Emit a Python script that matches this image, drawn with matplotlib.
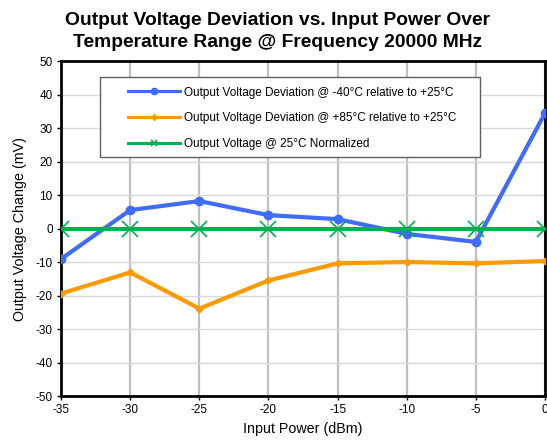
import matplotlib.pyplot as plt
from matplotlib.patches import Rectangle

plt.rcParams['font.family'] = ['Liberation Sans', 'DejaVu Sans']
plt.rcParams['axes.unicode_minus'] = False

# data
input_power = [-35, -30, -25, -20, -15, -10, -5, 0]
dev_minus40 = [-9.1, 5.5, 8.2, 4.0, 2.8, -1.6, -4.0, 34.5]
dev_plus85 = [-19.4, -13.1, -23.9, -15.5, -10.4, -10.0, -10.4, -9.7]
normalized_25 = [0, 0, 0, 0, 0, 0, 0, 0]

fig = plt.figure(figsize=(5.47, 4.44), dpi=100)
ax = fig.add_axes([0.1115, 0.108, 0.885, 0.7546])

# grid: vertical darker, horizontal lighter
for x in input_power:
    ax.axvline(x, color='#c0c0c0', lw=1.6, zorder=0)
for y in range(-40, 50, 10):
    ax.axhline(y, color='#d9d9d9', lw=1.0, zorder=0)

ax.plot(input_power, dev_minus40, color='#3f6bff', lw=3.0, marker='o', ms=6,
        label='Output Voltage Deviation @ -40°C relative to +25°C', zorder=3)
ax.plot(input_power, dev_plus85, color='#ff9900', lw=3.0, marker='D', ms=3.5,
        label='Output Voltage Deviation @ +85°C relative to +25°C', zorder=3)
ax.plot(input_power, normalized_25, color='#00b050', lw=3.0, marker='x', ms=12,
        mew=1.2, label='Output Voltage @ 25°C Normalized', zorder=4)

ax.set_xlim(-35, 0)
ax.set_ylim(-50, 50)
ax.set_xticks(input_power)
ax.set_yticks(range(-50, 51, 10))
ax.tick_params(labelsize=8.5, length=3, width=1, direction='out', pad=3)

for s in ax.spines.values():
    s.set_linewidth(2)
    s.set_color('black')

ax.set_xlabel('Input Power (dBm)', fontsize=10.3, labelpad=4)
ax.set_ylabel('Output Voltage Change (mV)', fontsize=10.3, labelpad=6)
fig.suptitle('Output Voltage Deviation vs. Input Power Over\nTemperature Range @ Frequency 20000 MHz',
             fontsize=13.9, fontweight='bold', x=0.508, y=0.973, linespacing=1.4)

# legend box drawn separately so the padding can be wider than tall
fig.add_artist(Rectangle((100 / 547, 1 - 157 / 444), 380 / 547, 80 / 444,
                         transform=fig.transFigure, facecolor='white',
                         edgecolor='#606060', lw=1.0, zorder=2))
handles, labels = ax.get_legend_handles_labels()
leg = fig.legend(handles, labels, loc='upper left',
                 bbox_to_anchor=(128 / 547, 1 - 86.5 / 444),
                 fontsize=8.5, frameon=False,
                 handlelength=4.4, labelspacing=1.15, borderpad=0,
                 handletextpad=0.35, borderaxespad=0)
leg.set_zorder(5)
for h, ms in zip(leg.legend_handles, [4.5, 3.0, 4.0]):
    h.set_markersize(ms)
    h.set_linewidth(2.2)

fig.savefig('out.png', dpi=100)
